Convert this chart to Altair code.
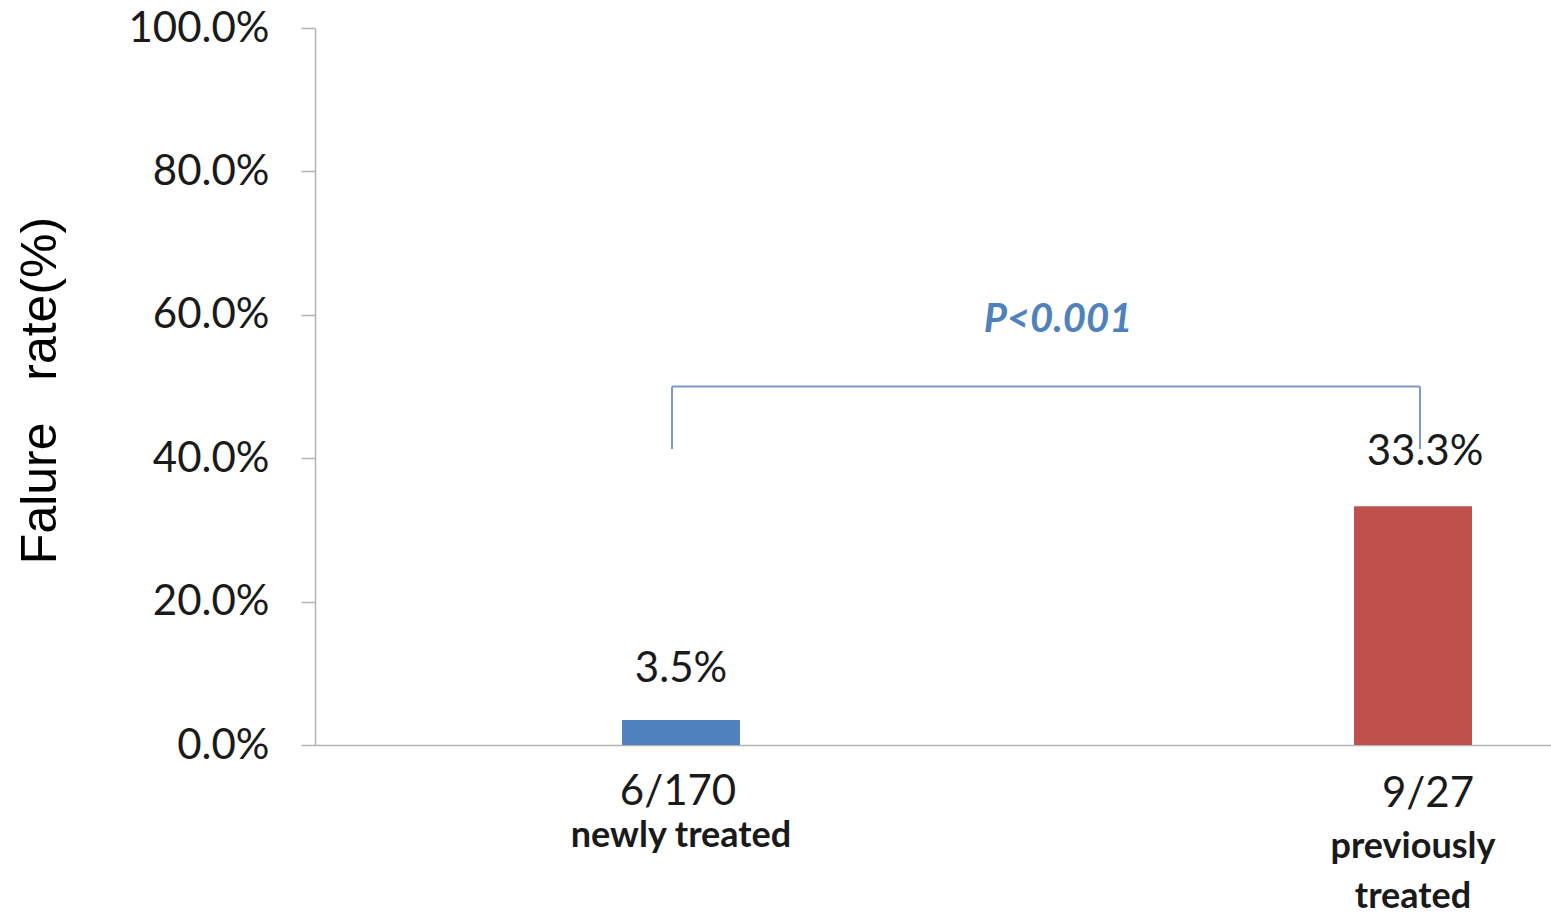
import altair as alt
import pandas as pd

groups = ["newly treated", "previously treated"]
rates = [0.035, 0.333]
rate_labels = ["3.5%", "33.3%"]
fractions = ["6/170", "9/27"]
group_lines = ["newly treated", "previously\ntreated"]
bar_colors = ["#4F81BD", "#C0504D"]
y_ticks = [0, 0.2, 0.4, 0.6, 0.8, 1.0]
p_text = "P<0.001"
bracket_top = 0.5
bracket_end = 0.413
p_level = 0.576

df = pd.DataFrame({
    "group": groups,
    "rate": rates,
    "rate_label": rate_labels,
    "fraction": fractions,
    "lines": group_lines,
    "color": bar_colors,
})
one = pd.DataFrame({"k": [0]})

AXIS_GRAY = "#B3B3B3"
LABEL_FONT = "Lato"

x_scale = alt.Scale(domain=groups, range=[0, 1464], paddingInner=0, paddingOuter=0)
y_scale = alt.Scale(domain=[0, 1])

x_enc = alt.X("group:N", scale=x_scale,
              axis=alt.Axis(labels=False, ticks=False, title=None, grid=False,
                            domainColor=AXIS_GRAY, domainWidth=1.5))
y_enc = alt.Y("rate:Q", scale=y_scale,
              axis=alt.Axis(values=y_ticks, format=".1%", grid=False,
                            tickSize=14, tickColor=AXIS_GRAY, tickWidth=1.5,
                            domainColor=AXIS_GRAY, domainWidth=1.5,
                            labelFont=LABEL_FONT, labelFontSize=42,
                            labelColor="#1a1a1a", labelPadding=32,
                            title="Falure\u00a0\u00a0\u00a0rate(%)",
                            titleFont="Liberation Sans", titleFontSize=50,
                            titleFontWeight="normal", titleColor="#000000",
                            titleAngle=-90, titleAlign="center",
                            titleBaseline="alphabetic",
                            titleX=-260, titleY=362))

xg = alt.X("group:N", scale=x_scale)
yr = alt.Y("rate:Q", scale=y_scale)
y0 = alt.Y(datum=0, scale=y_scale)

base = alt.Chart(df)

bars = base.mark_bar(size=118).encode(
    x=x_enc, y=y_enc, color=alt.Color("color:N", scale=None)
)

val_newly = base.transform_filter(alt.datum.group == groups[0]).mark_text(
    font=LABEL_FONT, fontSize=42, color="#1a1a1a", baseline="alphabetic", dy=-38
).encode(x=xg, y=yr, text="rate_label:N")
val_prev = base.transform_filter(alt.datum.group == groups[1]).mark_text(
    font=LABEL_FONT, fontSize=42, color="#1a1a1a", baseline="alphabetic", dy=-41, dx=12
).encode(x=xg, y=yr, text="rate_label:N")

frac_newly = base.transform_filter(alt.datum.group == groups[0]).mark_text(
    font=LABEL_FONT, fontSize=42, color="#1a1a1a", baseline="alphabetic", dy=60, dx=-3
).encode(x=xg, y=y0, text="fraction:N")
frac_prev = base.transform_filter(alt.datum.group == groups[1]).mark_text(
    font=LABEL_FONT, fontSize=42, color="#1a1a1a", baseline="alphabetic", dy=62, dx=15
).encode(x=xg, y=y0, text="fraction:N")

name_newly = base.transform_filter(alt.datum.group == groups[0]).mark_text(
    font=LABEL_FONT, fontSize=36, fontWeight="bold", color="#1a1a1a",
    baseline="alphabetic", dy=102, lineBreak="\n", lineHeight=50
).encode(x=xg, y=y0, text="lines:N")
name_prev = base.transform_filter(alt.datum.group == groups[1]).mark_text(
    font=LABEL_FONT, fontSize=36, fontWeight="bold", color="#1a1a1a",
    baseline="alphabetic", dy=113, lineBreak="\n", lineHeight=50
).encode(x=xg, y=y0, text="lines:N")

BRACKET = "#7F9AC4"
br_h = alt.Chart(one).mark_rule(color=BRACKET, strokeWidth=2, xOffset=-9, x2Offset=7).encode(
    x=alt.X(datum=groups[0], scale=x_scale), x2=alt.datum(groups[1]),
    y=alt.Y(datum=bracket_top, scale=y_scale)
)
br_l = alt.Chart(one).mark_rule(color=BRACKET, strokeWidth=2, xOffset=-9).encode(
    x=alt.X(datum=groups[0], scale=x_scale),
    y=alt.Y(datum=bracket_top, scale=y_scale), y2=alt.datum(bracket_end)
)
br_r = alt.Chart(one).mark_rule(color=BRACKET, strokeWidth=2, xOffset=7).encode(
    x=alt.X(datum=groups[1], scale=x_scale),
    y=alt.Y(datum=bracket_top, scale=y_scale), y2=alt.datum(bracket_end)
)
p_label = alt.Chart(one).mark_text(
    font=LABEL_FONT, fontSize=40, fontWeight="bold", fontStyle="italic",
    color="#4F81BD", baseline="alphabetic", dx=377
).encode(x=alt.X(datum=groups[0], scale=x_scale),
         y=alt.Y(datum=p_level, scale=y_scale), text=alt.value(p_text))

chart = alt.layer(
    bars, br_h, br_l, br_r, p_label, val_newly, val_prev,
    frac_newly, frac_prev, name_newly, name_prev
).properties(
    width=1236, height=717,
    padding={"left": 315, "top": 28, "right": 0, "bottom": 172},
    autosize=alt.AutoSizeParams(type="none"),
    background="white",
).configure_view(stroke=None).configure_axis(grid=False)

chart.save("out.html", embed_options={"renderer": "svg", "actions": False})
